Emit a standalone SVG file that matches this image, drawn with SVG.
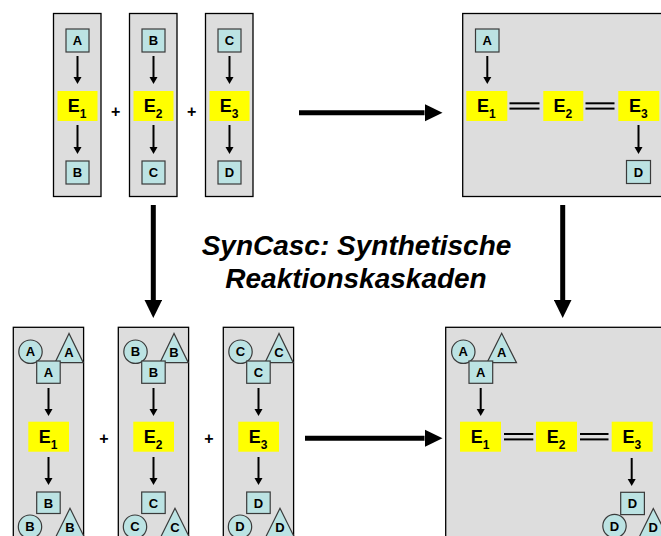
<svg xmlns="http://www.w3.org/2000/svg" width="661" height="536" viewBox="0 0 661 536">
  <defs>
    <style>
      .panel { fill: #DDDDDD; stroke: #000; stroke-width: 1.3; }
      .mol { fill: #BCE3E3; stroke: #3a3a3a; stroke-width: 1.2; }
      .enz { fill: #FFFF00; }
      .lbl { font-family: "Liberation Sans", Arial, sans-serif; font-weight: bold; font-size: 13px; text-anchor: middle; fill: #000; }
      .e { font-family: "Liberation Sans", Arial, sans-serif; font-weight: bold; font-size: 18px; fill: #000; }
      .sub { font-size: 12px; }
      .plus { font-family: "Liberation Sans", Arial, sans-serif; font-weight: bold; font-size: 16px; text-anchor: middle; fill: #000; }
      .title { font-family: "Liberation Sans", Arial, sans-serif; font-weight: bold; font-style: italic; font-size: 28px; text-anchor: middle; fill: #000; }
      .link { stroke: #000; stroke-width: 2; fill: none; marker-end: url(#ah); }
      .big { stroke: #000; stroke-width: 5; fill: none; marker-end: url(#bigah); }
      .dbl { stroke: #000; stroke-width: 2; }
    </style>
    <marker id="ah" markerUnits="userSpaceOnUse" markerWidth="10" markerHeight="10" viewBox="0 -5 8 10" refX="0" refY="0" orient="auto">
      <polygon points="0,-4 7,0 0,4" fill="#000"/>
    </marker>
    <marker id="bigah" markerUnits="userSpaceOnUse" markerWidth="18" markerHeight="18" viewBox="0 -8 16 16" refX="0" refY="0" orient="auto">
      <polygon points="0,-7.8 16,0 0,7.8" fill="#000"/>
    </marker>
  </defs>

  <rect width="661" height="536" fill="#fff"/>

  <!-- separate enzyme modules -->
  <g id="module1">
    <rect class="panel" x="53.5" y="13.5" width="47.5" height="183"/>
    <rect class="mol" x="66" y="29" width="23" height="23"/>
    <text class="lbl" x="77.5" y="45.2">A</text>
    <rect class="enz" x="57.5" y="91" width="40" height="30"/>
    <text class="e" x="67.8" y="112">E<tspan class="sub" dy="6">1</tspan></text>
    <rect class="mol" x="66" y="161" width="23" height="23"/>
    <text class="lbl" x="77.5" y="177.2">B</text>
  </g>
  <g id="module2">
    <rect class="panel" x="129.5" y="13.5" width="47.5" height="183"/>
    <rect class="mol" x="142" y="29" width="23" height="23"/>
    <text class="lbl" x="153.5" y="45.2">B</text>
    <rect class="enz" x="133.5" y="91" width="40" height="30"/>
    <text class="e" x="143.8" y="112">E<tspan class="sub" dy="6">2</tspan></text>
    <rect class="mol" x="142" y="161" width="23" height="23"/>
    <text class="lbl" x="153.5" y="177.2">C</text>
  </g>
  <g id="module3">
    <rect class="panel" x="205.5" y="13.5" width="47.5" height="183"/>
    <rect class="mol" x="218" y="29" width="23" height="23"/>
    <text class="lbl" x="229.5" y="45.2">C</text>
    <rect class="enz" x="209.5" y="91" width="40" height="30"/>
    <text class="e" x="219.8" y="112">E<tspan class="sub" dy="6">3</tspan></text>
    <rect class="mol" x="218" y="161" width="23" height="23"/>
    <text class="lbl" x="229.5" y="177.2">D</text>
  </g>
  <g id="plus-top">
    <text class="plus" x="115.7" y="116.5">+</text>
    <text class="plus" x="191.7" y="116.5">+</text>
  </g>

  <!-- coupled cascade -->
  <g id="cascade">
    <rect class="panel" x="462.7" y="13.5" width="220" height="183"/>
    <rect class="mol" x="475.5" y="29" width="23.5" height="23"/>
    <text class="lbl" x="487.3" y="45.2">A</text>
    <rect class="enz" x="466.3" y="91" width="41" height="30"/>
    <text class="e" x="477" y="112">E<tspan class="sub" dy="6">1</tspan></text>
    <rect class="enz" x="543.3" y="91" width="40" height="30"/>
    <text class="e" x="553.6" y="112">E<tspan class="sub" dy="6">2</tspan></text>
    <rect class="enz" x="618.3" y="91" width="41" height="30"/>
    <text class="e" x="629" y="112">E<tspan class="sub" dy="6">3</tspan></text>
    <rect class="mol" x="626.5" y="160.5" width="24" height="23"/>
    <text class="lbl" x="638.5" y="176.7">D</text>
  </g>

  <!-- title -->
  <g id="title">
    <text class="title" x="356.5" y="255">SynCasc: Synthetische</text>
    <text class="title" x="356" y="288">Reaktionskaskaden</text>
  </g>

  <!-- separate modules with substrate variants -->
  <g id="module1-var">
    <rect class="panel" x="13.3" y="327.3" width="70.3" height="230"/>
    <circle class="mol" cx="30.5" cy="351.7" r="11.7"/>
    <text class="lbl" x="30.5" y="356.4">A</text>
    <polygon class="mol" points="69,333.5 55,362.7 83.3,362.7"/>
    <text class="lbl" x="69" y="357">A</text>
    <rect class="mol" x="36.7" y="361" width="23.5" height="22.3"/>
    <text class="lbl" x="48.4" y="376.8">A</text>
    <rect class="enz" x="28.3" y="421.7" width="40.7" height="30"/>
    <text class="e" x="38.8" y="442.7">E<tspan class="sub" dy="6">1</tspan></text>
    <rect class="mol" x="36.7" y="492" width="23.5" height="21.5"/>
    <text class="lbl" x="48.4" y="507.5">B</text>
    <circle class="mol" cx="30" cy="526.7" r="11.7"/>
    <text class="lbl" x="30" y="531.4">B</text>
    <polygon class="mol" points="70,508.3 55.5,537.5 84.5,537.5"/>
    <text class="lbl" x="70" y="532.4">B</text>
  </g>
  <g id="module2-var">
    <rect class="panel" x="118.3" y="327.3" width="70.3" height="230"/>
    <circle class="mol" cx="135.5" cy="351.7" r="11.7"/>
    <text class="lbl" x="135.5" y="356.4">B</text>
    <polygon class="mol" points="174,333.5 160,362.7 188.3,362.7"/>
    <text class="lbl" x="174" y="357">B</text>
    <rect class="mol" x="141.7" y="361" width="23.5" height="22.3"/>
    <text class="lbl" x="153.4" y="376.8">B</text>
    <rect class="enz" x="133.3" y="421.7" width="40.7" height="30"/>
    <text class="e" x="143.8" y="442.7">E<tspan class="sub" dy="6">2</tspan></text>
    <rect class="mol" x="141.7" y="492" width="23.5" height="21.5"/>
    <text class="lbl" x="153.4" y="507.5">C</text>
    <circle class="mol" cx="135" cy="526.7" r="11.7"/>
    <text class="lbl" x="135" y="531.4">C</text>
    <polygon class="mol" points="175,508.3 160.5,537.5 189.5,537.5"/>
    <text class="lbl" x="175" y="532.4">C</text>
  </g>
  <g id="module3-var">
    <rect class="panel" x="223.3" y="327.3" width="70.3" height="230"/>
    <circle class="mol" cx="240.5" cy="351.7" r="11.7"/>
    <text class="lbl" x="240.5" y="356.4">C</text>
    <polygon class="mol" points="279,333.5 265,362.7 293.3,362.7"/>
    <text class="lbl" x="279" y="357">C</text>
    <rect class="mol" x="246.7" y="361" width="23.5" height="22.3"/>
    <text class="lbl" x="258.4" y="376.8">C</text>
    <rect class="enz" x="238.3" y="421.7" width="40.7" height="30"/>
    <text class="e" x="248.8" y="442.7">E<tspan class="sub" dy="6">3</tspan></text>
    <rect class="mol" x="246.7" y="492" width="23.5" height="21.5"/>
    <text class="lbl" x="258.4" y="507.5">D</text>
    <circle class="mol" cx="240" cy="526.7" r="11.7"/>
    <text class="lbl" x="240" y="531.4">D</text>
    <polygon class="mol" points="280,508.3 265.5,537.5 294.5,537.5"/>
    <text class="lbl" x="280" y="532.4">D</text>
  </g>
  <g id="plus-bottom">
    <text class="plus" x="104" y="443.8">+</text>
    <text class="plus" x="209" y="443.8">+</text>
  </g>

  <!-- coupled cascade with substrate variants -->
  <g id="cascade-var">
    <rect class="panel" x="445.7" y="327.3" width="240" height="230"/>
    <circle class="mol" cx="463.3" cy="351.7" r="11.7"/>
    <text class="lbl" x="463.3" y="356.4">A</text>
    <polygon class="mol" points="501.7,333.3 487,362.7 516.5,362.7"/>
    <text class="lbl" x="501.7" y="357">A</text>
    <rect class="mol" x="469" y="361" width="23.7" height="22.3"/>
    <text class="lbl" x="480.8" y="376.8">A</text>
    <rect class="enz" x="460" y="421.7" width="41" height="30"/>
    <text class="e" x="470.7" y="442.7">E<tspan class="sub" dy="6">1</tspan></text>
    <rect class="enz" x="536" y="421.7" width="41" height="30"/>
    <text class="e" x="546.7" y="442.7">E<tspan class="sub" dy="6">2</tspan></text>
    <rect class="enz" x="611.7" y="421.7" width="41" height="30"/>
    <text class="e" x="622.4" y="442.7">E<tspan class="sub" dy="6">3</tspan></text>
    <rect class="mol" x="620.7" y="492.3" width="23.7" height="22.3"/>
    <text class="lbl" x="632.5" y="508.1">D</text>
    <circle class="mol" cx="614.5" cy="526" r="11.7"/>
    <text class="lbl" x="614.5" y="530.7">D</text>
    <polygon class="mol" points="653.3,508.5 639,537.5 668,537.5"/>
    <text class="lbl" x="653.3" y="532.4">D</text>
  </g>

  <!-- connectors -->
  <g id="connectors">
    <!-- substrate/product flow -->
    <line class="link" x1="77.5" y1="56" x2="77.5" y2="77"/>
    <line class="link" x1="77.5" y1="125" x2="77.5" y2="147"/>
    <line class="link" x1="153.5" y1="56" x2="153.5" y2="77"/>
    <line class="link" x1="153.5" y1="125" x2="153.5" y2="147"/>
    <line class="link" x1="229.5" y1="56" x2="229.5" y2="77"/>
    <line class="link" x1="229.5" y1="125" x2="229.5" y2="147"/>
    <line class="link" x1="487.3" y1="56" x2="487.3" y2="77"/>
    <line class="link" x1="638.5" y1="125" x2="638.5" y2="147"/>

    <line class="link" x1="48.5" y1="388" x2="48.5" y2="409"/>
    <line class="link" x1="48.5" y1="457" x2="48.5" y2="478"/>
    <line class="link" x1="153.5" y1="388" x2="153.5" y2="409"/>
    <line class="link" x1="153.5" y1="457" x2="153.5" y2="478"/>
    <line class="link" x1="258.5" y1="388" x2="258.5" y2="409"/>
    <line class="link" x1="258.5" y1="457" x2="258.5" y2="478"/>
    <line class="link" x1="480.7" y1="388" x2="480.7" y2="409"/>
    <line class="link" x1="631.7" y1="458" x2="631.7" y2="479"/>

    <!-- enzyme couplings -->
    <line class="dbl" x1="509.5" y1="103.3" x2="539.5" y2="103.3"/>
    <line class="dbl" x1="509.5" y1="108.6" x2="539.5" y2="108.6"/>
    <line class="dbl" x1="585.5" y1="103.3" x2="614.5" y2="103.3"/>
    <line class="dbl" x1="585.5" y1="108.6" x2="614.5" y2="108.6"/>
    <line class="dbl" x1="504" y1="434" x2="533.3" y2="434"/>
    <line class="dbl" x1="504" y1="439.4" x2="533.3" y2="439.4"/>
    <line class="dbl" x1="580" y1="434" x2="608.5" y2="434"/>
    <line class="dbl" x1="580" y1="439.4" x2="608.5" y2="439.4"/>

    <!-- main transitions -->
    <line class="big" x1="299" y1="112.7" x2="424.5" y2="112.7"/>
    <line class="big" x1="305" y1="438.3" x2="424.5" y2="438.3"/>
    <line class="big" x1="153.3" y1="205" x2="153.3" y2="300"/>
    <line class="big" x1="562.7" y1="205" x2="562.7" y2="300"/>
  </g>
</svg>
